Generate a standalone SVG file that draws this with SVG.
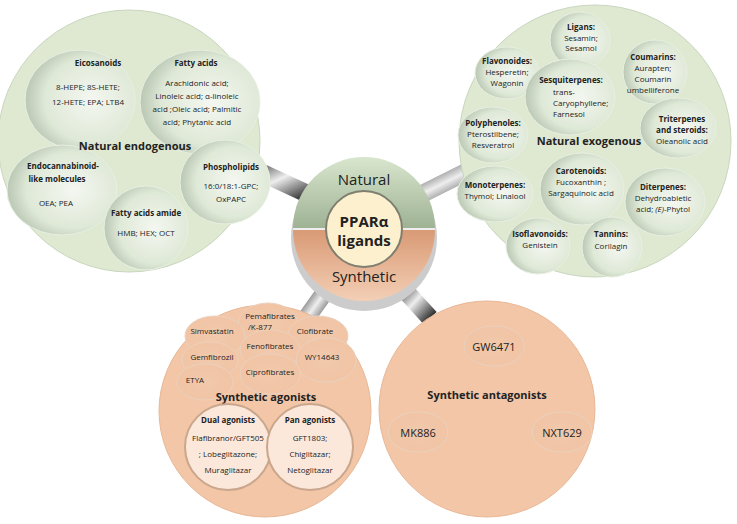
<svg xmlns="http://www.w3.org/2000/svg" width="737" height="524" viewBox="0 0 737 524">
<style>
text{font-family:"Open Sans","Liberation Sans",sans-serif;fill:#222;text-anchor:middle}
.s{font-size:8px}.b{font-size:8px;font-weight:bold}.h{font-size:11px;font-weight:bold}
.gr{fill:url(#gsub);stroke:#e8efe2;stroke-width:1}
.or{fill:url(#osub);stroke:#ead2bf;stroke-width:1}
.bar{stroke:url(#bar);stroke-width:18}
</style>
<defs>
<radialGradient id="gsub" cx="0.6" cy="0.5" r="0.6"><stop offset="0" stop-color="#f4f7f1"/><stop offset="0.7" stop-color="#dfe9d7"/><stop offset="1" stop-color="#b9c7b3"/></radialGradient>
<radialGradient id="osub" cx="0.5" cy="0.5" r="0.6"><stop offset="0" stop-color="#f2c9ac"/><stop offset="1" stop-color="#f0c3a3"/></radialGradient>
<linearGradient id="bar" x1="0" y1="0" x2="1" y2="1"><stop offset="0" stop-color="#333"/><stop offset="0.5" stop-color="#eee"/><stop offset="1" stop-color="#333"/></linearGradient>
<linearGradient id="gtop" x1="0" y1="0" x2="0" y2="1"><stop offset="0" stop-color="#d8e6cd"/><stop offset="1" stop-color="#9fb294"/></linearGradient>
<linearGradient id="obot" x1="0" y1="0" x2="0" y2="1"><stop offset="0" stop-color="#d99a76"/><stop offset="1" stop-color="#f3cfb5"/></linearGradient>
</defs>
<g id="connectors">
<line class="bar" x1="310" y1="195" x2="245" y2="165"/>
<line class="bar" x1="420" y1="195" x2="480" y2="165"/>
<line class="bar" x1="330" y1="285" x2="305" y2="320"/>
<line class="bar" x1="400" y1="285" x2="430" y2="318"/>
</g>
<g id="endogenous">
<circle cx="129" cy="141" r="131" fill="#dfe9d2" stroke="#c9d6be"/>
<ellipse class="gr" cx="80" cy="100" rx="55" ry="50"/>
<ellipse class="gr" cx="200" cy="102" rx="60" ry="52"/>
<ellipse class="gr" cx="62" cy="190" rx="55" ry="45"/>
<ellipse class="gr" cx="225" cy="182" rx="45" ry="42"/>
<ellipse class="gr" cx="146" cy="228" rx="42" ry="42"/>
<text class="b" x="98" y="66">Eicosanoids</text>
<text class="s" x="88" y="90">8-HEPE;  8S-HETE;</text>
<text class="s" x="88" y="105">12-HETE; EPA; LTB4</text>
<text class="b" x="196" y="66">Fatty acids</text>
<text class="s" x="197" y="86">Arachidonic acid;</text>
<text class="s" x="197" y="99">Linoleic acid; α-linoleic</text>
<text class="s" x="197" y="112">acid ;Oleic acid; Palmitic</text>
<text class="s" x="197" y="125">acid; Phytanic acid</text>
<text class="h" x="135" y="150">Natural endogenous</text>
<text class="b" x="63" y="169">Endocannabinoid-</text>
<text class="b" x="57" y="182">like molecules</text>
<text class="s" x="56" y="206">OEA; PEA</text>
<text class="b" x="231" y="170">Phospholipids</text>
<text class="s" x="231" y="189">16:0/18:1-GPC;</text>
<text class="s" x="231" y="202">OxPAPC</text>
<text class="b" x="146" y="216">Fatty acids amide</text>
<text class="s" x="146" y="236">HMB; HEX; OCT</text>
</g>
<g id="exogenous">
<circle cx="595" cy="141" r="136" fill="#dfe9d2" stroke="#c9d6be"/>
<ellipse class="gr" cx="580" cy="40" rx="30" ry="28"/>
<ellipse class="gr" cx="507" cy="73" rx="32" ry="26"/>
<ellipse class="gr" cx="655" cy="72" rx="32" ry="32"/>
<ellipse class="gr" cx="570" cy="97" rx="45" ry="38"/>
<ellipse class="gr" cx="493" cy="135" rx="35" ry="28"/>
<ellipse class="gr" cx="678" cy="128" rx="38" ry="30"/>
<ellipse class="gr" cx="582" cy="189" rx="42" ry="36"/>
<ellipse class="gr" cx="495" cy="194" rx="38" ry="28"/>
<ellipse class="gr" cx="665" cy="202" rx="40" ry="34"/>
<ellipse class="gr" cx="538" cy="246" rx="32" ry="28"/>
<ellipse class="gr" cx="612" cy="247" rx="30" ry="30"/>
<text class="b" x="581" y="30">Ligans:</text>
<text class="s" x="581" y="41">Sesamin;</text>
<text class="s" x="581" y="51">Sesamol</text>
<text class="b" x="507" y="64">Flavonoides:</text>
<text class="s" x="507" y="75">Hesperetin;</text>
<text class="s" x="507" y="86">Wagonin</text>
<text class="b" x="653" y="60">Coumarins:</text>
<text class="s" x="653" y="71">Aurapten;</text>
<text class="s" x="653" y="82">Coumarin</text>
<text class="s" x="653" y="93">umbelliferone</text>
<text class="b" x="571" y="83">Sesquiterpenes:</text>
<text class="s" x="553" y="95" style="text-anchor:start">trans-</text>
<text class="s" x="553" y="106" style="text-anchor:start">Caryophyllene;</text>
<text class="s" x="553" y="117" style="text-anchor:start">Farnesol</text>
<text class="b" x="493" y="126">Polyphenoles:</text>
<text class="s" x="493" y="137">Pterostilbene;</text>
<text class="s" x="493" y="148">Resveratrol</text>
<text class="b" x="682" y="122">Triterpenes</text>
<text class="b" x="682" y="133">and steroids:</text>
<text class="s" x="682" y="144">Oleanolic acid</text>
<text class="h" x="589" y="145">Natural exogenous</text>
<text class="b" x="581" y="174">Carotenoids:</text>
<text class="s" x="581" y="185">Fucoxanthin ;</text>
<text class="s" x="581" y="196">Sargaquinoic acid</text>
<text class="b" x="495" y="188">Monoterpenes:</text>
<text class="s" x="495" y="199">Thymol; Linalool</text>
<text class="b" x="663" y="190">Diterpenes:</text>
<text class="s" x="663" y="201">Dehydroabietic</text>
<text class="s" x="663" y="212">acid; <tspan font-style="italic">(E)</tspan>-Phytol</text>
<text class="b" x="540" y="237">Isoflavonoids:</text>
<text class="s" x="540" y="248">Genistein</text>
<text class="b" x="611" y="237">Tannins:</text>
<text class="s" x="611" y="249">Corilagin</text>
</g>
<g id="center">
<circle cx="364" cy="238" r="73" fill="#ccc"/>
<path d="M293 228 A71 71 0 0 1 435 228 Z" fill="url(#gtop)"/>
<path d="M293 230 A71 71 0 0 0 435 230 Z" fill="url(#obot)"/>
<line x1="293" y1="229" x2="435" y2="229" stroke="#eee" stroke-width="2"/>
<circle cx="364" cy="229" r="38" fill="#fdf0cf" stroke="#7f7f6f" stroke-width="2"/>
<text x="364" y="185" style="font-size:15px">Natural</text>
<text x="364" y="227" style="font-size:15px;font-weight:bold">PPARα</text>
<text x="364" y="246" style="font-size:15px;font-weight:bold">ligands</text>
<text x="364" y="282" style="font-size:15px">Synthetic</text>
</g>
<g id="agonists">
<circle cx="265" cy="411" r="106" fill="#f2c6a7" stroke="#e8b896"/>
<ellipse class="or" cx="268" cy="325" rx="30" ry="22"/>
<ellipse class="or" cx="215" cy="336" rx="30" ry="20"/>
<ellipse class="or" cx="318" cy="336" rx="30" ry="20"/>
<ellipse class="or" cx="270" cy="350" rx="30" ry="20"/>
<ellipse class="or" cx="210" cy="360" rx="28" ry="18"/>
<ellipse class="or" cx="326" cy="360" rx="30" ry="22"/>
<ellipse class="or" cx="270" cy="374" rx="30" ry="20"/>
<ellipse class="or" cx="205" cy="382" rx="28" ry="18"/>
<text class="s" x="270" y="319">Pemafibrates</text>
<text class="s" x="260" y="330">/K-877</text>
<text class="s" x="212" y="334">Simvastatin</text>
<text class="s" x="315" y="334">Clofibrate</text>
<text class="s" x="270" y="349">Fenofibrates</text>
<text class="s" x="212" y="360">Gemfibrozil</text>
<text class="s" x="322" y="360">WY14643</text>
<text class="s" x="270" y="375">Ciprofibrates</text>
<text class="s" x="195" y="383">ETYA</text>
<text class="h" x="266" y="401">Synthetic agonists</text>
<circle cx="228" cy="447" r="43" fill="#fbe8da" stroke="#c9a68c" stroke-width="2"/>
<circle cx="310" cy="447" r="43" fill="#fbe8da" stroke="#c9a68c" stroke-width="2"/>
<text class="b" x="228" y="423">Dual agonists</text>
<text class="s" x="228" y="441">Flafibranor/GFT505</text>
<text class="s" x="228" y="457">; Lobeglitazone;</text>
<text class="s" x="228" y="473">Muraglitazar</text>
<text class="b" x="310" y="423">Pan agonists</text>
<text class="s" x="310" y="441">GFT1803;</text>
<text class="s" x="310" y="457">Chiglitazar;</text>
<text class="s" x="310" y="473">Netoglitazar</text>
</g>
<g id="antagonists">
<circle cx="487" cy="409" r="108" fill="#f2c6a7" stroke="#e8b896"/>
<ellipse class="or" cx="494" cy="346" rx="30" ry="20"/>
<ellipse class="or" cx="418" cy="432" rx="30" ry="20"/>
<ellipse class="or" cx="562" cy="432" rx="30" ry="20"/>
<text x="494" y="351" style="font-size:11px">GW6471</text>
<text class="h" x="487" y="399">Synthetic antagonists</text>
<text x="418" y="437" style="font-size:11px">MK886</text>
<text x="562" y="437" style="font-size:11px">NXT629</text>
</g>
</svg>
